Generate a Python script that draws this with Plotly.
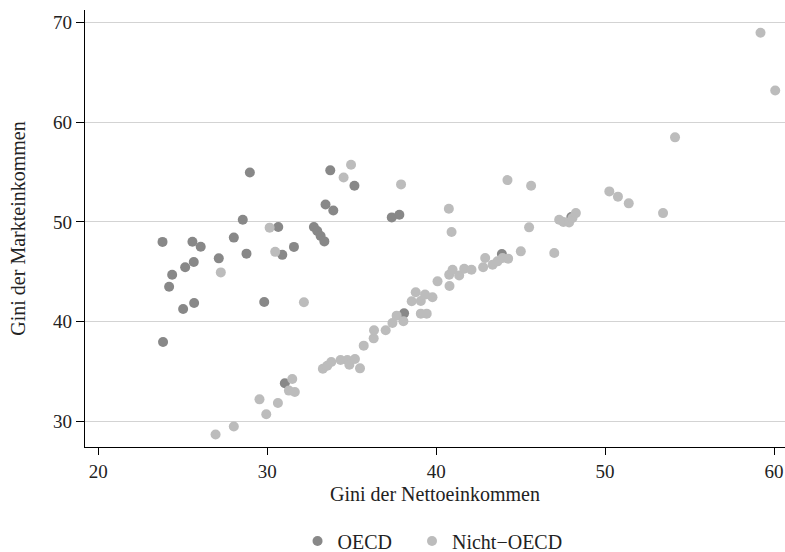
import plotly.graph_objects as go

oecd_x = [23.8, 23.83, 24.37, 24.19, 25.02, 25.67, 25.14, 25.65, 25.57, 26.06,
          27.13, 28.02, 28.77, 28.55, 28.97, 29.82, 30.65, 30.89, 31.58, 31.04,
          32.76, 32.96, 33.16, 33.38, 33.45, 33.91, 33.73, 35.16, 37.37, 37.82,
          38.1, 43.89, 48.0]
oecd_y = [48.0, 37.95, 44.7, 43.5, 41.26, 41.87, 45.45, 45.98, 48.02, 47.52,
          46.35, 48.43, 46.82, 50.23, 54.97, 41.97, 49.5, 46.7, 47.5, 33.81,
          49.5, 49.1, 48.6, 48.05, 51.75, 51.15, 55.18, 53.64, 50.46, 50.73,
          40.83, 46.78, 50.5]

non_x = [27.25, 30.14, 30.47, 32.17, 26.94, 28.02, 29.54, 29.94, 30.63, 31.48,
         31.28, 31.63, 33.29, 33.55, 33.79, 34.34, 34.74, 34.86, 35.19, 35.49,
         35.71, 36.3, 36.32, 37.01, 37.41, 37.66, 38.06, 38.55, 38.79, 39.09,
         39.34, 39.78, 39.09, 39.44, 40.08, 40.79, 40.77, 40.97, 41.36, 41.66,
         42.09, 42.78, 42.9, 43.34, 43.63, 43.93, 44.26, 45.01, 46.99, 40.91,
         40.75, 44.22, 45.62, 45.5, 47.28, 47.53, 47.87, 48.07, 48.27, 50.25,
         50.76, 51.4, 53.43, 54.14, 59.2, 60.07, 34.96, 34.52, 37.92]
non_y = [44.94, 49.43, 47.0, 41.94, 28.67, 29.47, 32.2, 30.7, 31.84, 34.24,
         33.08, 32.94, 35.28, 35.58, 35.95, 36.15, 36.15, 35.68, 36.25, 35.31,
         37.59, 38.32, 39.13, 39.13, 39.86, 40.6, 40.03, 42.04, 42.94, 42.07,
         42.71, 42.44, 40.8, 40.8, 44.04, 43.57, 44.71, 45.21, 44.64, 45.31,
         45.21, 45.45, 46.38, 45.71, 46.05, 46.38, 46.32, 47.05, 46.88, 49.0,
         51.33, 54.2, 53.64, 49.46, 50.23, 49.99, 49.95, 50.4, 50.89, 53.07,
         52.54, 51.87, 50.89, 58.49, 68.99, 63.2, 55.75, 54.47, 53.77]

x_ticks = [20, 30, 40, 50, 60]
y_ticks = [30, 40, 50, 60, 70]

FONT = "Liberation Serif"
NB = "\u00a0"

fig = go.Figure()
fig.add_trace(go.Scatter(x=oecd_x, y=oecd_y, mode="markers", name="OECD" + NB * 3,
                         marker=dict(color="#888888", size=10), cliponaxis=False))
fig.add_trace(go.Scatter(x=non_x, y=non_y, mode="markers", name="Nicht\u2212OECD",
                         marker=dict(color="#bcbcbc", size=10), cliponaxis=False))

fig.update_layout(
    width=785, height=552,
    margin=dict(l=85, r=0, t=10, b=105),
    paper_bgcolor="white", plot_bgcolor="white",
    font=dict(family=FONT, size=19, color="#222222"),
    showlegend=True,
    legend=dict(orientation="h", x=0.551, xanchor="center", xref="container",
                y=0.02, yanchor="middle", yref="container",
                font=dict(size=20), tracegroupgap=0),
    xaxis=dict(range=[19.21, 60.65], tickvals=x_ticks, showgrid=False, zeroline=False,
               showline=True, linecolor="black", linewidth=1.3,
               ticks="outside", ticklen=7, tickcolor="black",
               tickfont=dict(size=19),
               title=dict(text="Gini der Nettoeinkommen", standoff=6, font=dict(size=20))),
    yaxis=dict(range=[27.42, 71.27], tickvals=y_ticks, showgrid=True, gridcolor="#d3d3d3",
               gridwidth=1.2, zeroline=False,
               showline=True, linecolor="black", linewidth=1.3,
               ticks="outside", ticklen=8, tickcolor="black",
               tickfont=dict(size=19),
               title=dict(text="Gini der Markteinkommen", standoff=22, font=dict(size=20))),
)

fig.write_html("out.html", config={"displayModeBar": False},
               post_script="document.body.style.margin='0';document.body.style.overflow='hidden';")
